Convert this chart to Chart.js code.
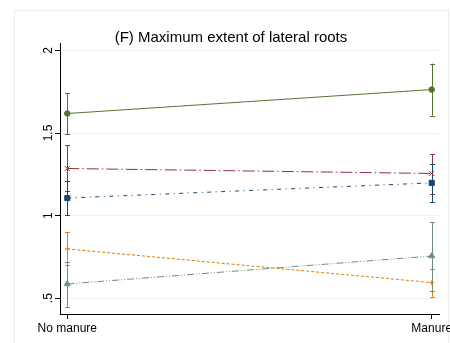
<!DOCTYPE html>
<html>
<head>
<meta charset="utf-8">
<script src="https://cdn.jsdelivr.net/npm/chart.js@4/dist/chart.umd.min.js"></script>
<style>
  html, body { margin: 0; padding: 0; background: #fff; }
  #wrap { width: 450px; height: 343px; position: relative; }
</style>
</head>
<body>
<div id="wrap"><canvas id="chart" width="450" height="343"></canvas></div>
<script>
// Treatment groups along the x axis
const categories = ['No manure', 'Manure'];
const categoryX = [0, 1];

// Y axis ticks
const yTickValues = [0.5, 1, 1.5, 2];
const yTickLabels = ['.5', '1', '1.5', '2'];

// Group means and confidence limits, one set per series
const greenMean = [1.618, 1.763];
const greenLow  = [1.492, 1.605];
const greenHigh = [1.742, 1.920];

const redMean = [1.285, 1.255];
const redLow  = [1.148, 1.128];
const redHigh = [1.426, 1.373];

const blueMean = [1.106, 1.198];
const blueLow  = [1.003, 1.083];
const blueHigh = [1.208, 1.313];

const orangeMean = [0.798, 0.594];
const orangeLow  = [0.701, 0.508];
const orangeHigh = [0.898, 0.679];

const tealMean = [0.586, 0.755];
const tealLow  = [0.447, 0.544];
const tealHigh = [0.721, 0.961];

const FONT = '"Liberation Sans", Arial, Helvetica, sans-serif';

function toPoints(values) {
  return values.map((v, i) => ({ x: categoryX[i], y: v }));
}

function series(values, low, high, color, dash, style, radius) {
  return {
    data: toPoints(values),
    errLow: low,
    errHigh: high,
    borderColor: color,
    backgroundColor: color,
    borderWidth: 1,
    borderDash: dash,
    pointStyle: style,
    pointRadius: radius,
    pointBorderWidth: 1,
    pointBackgroundColor: color,
    pointBorderColor: color,
    tension: 0,
    fill: false
  };
}

// Capped vertical intervals, drawn under the lines and markers
const intervalPlugin = {
  id: 'intervals',
  beforeDatasetsDraw(chart) {
    const ctx = chart.ctx;
    const xs = chart.scales.x, ys = chart.scales.y;
    const cap = 2.5;
    ctx.save();
    chart.data.datasets.forEach(ds => {
      ctx.strokeStyle = ds.borderColor;
      ctx.lineWidth = 1;
      ctx.setLineDash([]);
      ds.data.forEach((p, i) => {
        const x = Math.round(xs.getPixelForValue(p.x)) + 0.5;
        const yl = ys.getPixelForValue(ds.errLow[i]);
        const yh = ys.getPixelForValue(ds.errHigh[i]);
        ctx.beginPath();
        ctx.moveTo(x, yl); ctx.lineTo(x, yh);
        ctx.moveTo(x - cap, Math.round(yl) + 0.5); ctx.lineTo(x + cap, Math.round(yl) + 0.5);
        ctx.moveTo(x - cap, Math.round(yh) + 0.5); ctx.lineTo(x + cap, Math.round(yh) + 0.5);
        ctx.stroke();
      });
    });
    ctx.restore();
  }
};

// White page with a faint outer frame
const framePlugin = {
  id: 'frame',
  beforeDraw(chart) {
    const ctx = chart.ctx;
    ctx.save();
    ctx.fillStyle = '#ffffff';
    ctx.fillRect(0, 0, chart.width, chart.height);
    ctx.strokeStyle = '#e4eeee';
    ctx.lineWidth = 1;
    ctx.strokeRect(14.5, 10.5, 434, 345);
    ctx.restore();
  }
};

new Chart(document.getElementById('chart'), {
  type: 'line',
  data: {
    datasets: [
      series(greenMean, greenLow, greenHigh, '#55752f', [], 'circle', 2.8),
      series(redMean, redLow, redHigh, '#90353b', [12, 3, 1.5, 3], 'crossRot', 3.5),
      series(blueMean, blueLow, blueHigh, '#1a476f', [4, 4.5, 1, 4.5], 'rect', 3.6),
      series(orangeMean, orangeLow, orangeHigh, '#e37e00', [3, 2], 'cross', 2.5),
      series(tealMean, tealLow, tealHigh, '#6e8e84', [7, 2, 1, 2, 1, 2], 'triangle', 3.5)
    ]
  },
  options: {
    responsive: false,
    animation: false,
    events: [],
    layout: { padding: { left: 14, right: 2, top: 0, bottom: 0 } },
    plugins: {
      legend: { display: false },
      tooltip: { enabled: false },
      title: {
        display: true,
        text: '(F) Maximum extent of lateral roots',
        color: '#000',
        font: { family: FONT, size: 15, weight: 'normal', lineHeight: 0.7 },
        padding: { top: 33, bottom: 0 }
      }
    },
    scales: {
      x: {
        type: 'linear',
        min: -0.02,
        max: 1.02,
        afterBuildTicks(scale) { scale.ticks = categoryX.map(v => ({ value: v })); },
        afterFit(scale) { scale.height = 29; scale.paddingLeft = 0; scale.paddingRight = 11; },
        grid: { drawOnChartArea: false, drawTicks: true, tickLength: 5, tickColor: '#000', color: '#000' },
        border: { display: true, color: '#000', width: 1 },
        ticks: {
          autoSkip: false,
          maxRotation: 0,
          minRotation: 0,
          padding: 2,
          color: '#000',
          font: { family: FONT, size: 12 },
          callback: (v) => categories[categoryX.indexOf(v)]
        }
      },
      y: {
        type: 'linear',
        min: 0.404,
        max: 2.042,
        afterBuildTicks(scale) { scale.ticks = yTickValues.map(v => ({ value: v })); },
        afterFit(scale) { scale.width = 46; scale.paddingTop = 0; scale.paddingBottom = 0; },
        grid: { color: '#eaf2f3', lineWidth: 1, drawTicks: true, tickLength: 5, tickColor: '#000' },
        border: { display: true, color: '#000', width: 1 },
        ticks: {
          minRotation: 90,
          maxRotation: 90,
          crossAlign: 'center',
          padding: -2,
          color: '#000',
          font: { family: FONT, size: 12 },
          callback: (v) => yTickLabels[yTickValues.indexOf(v)]
        }
      }
    }
  },
  plugins: [framePlugin, intervalPlugin]
});
</script>
</body>
</html>
